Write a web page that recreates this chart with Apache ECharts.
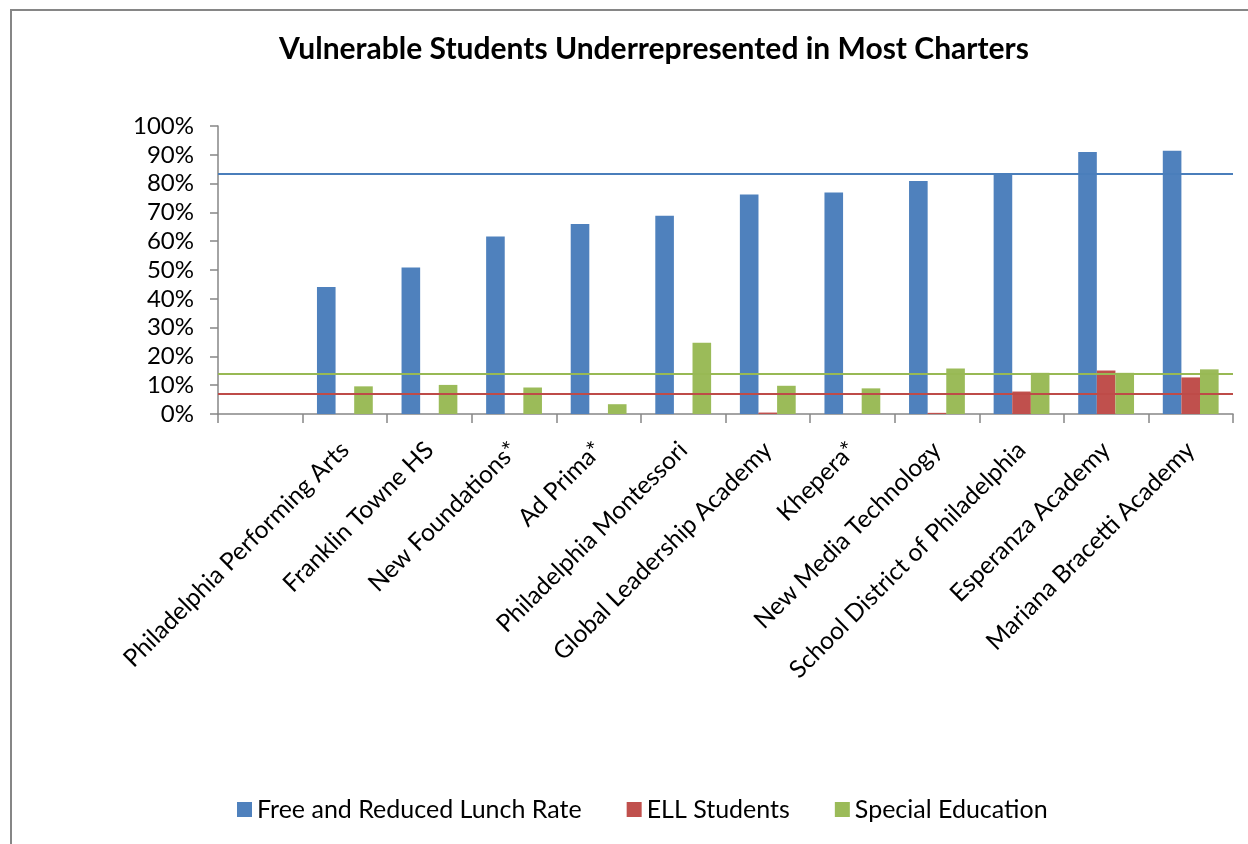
<!DOCTYPE html>
<html>
<head>
<meta charset="utf-8">
<style>
html,body{margin:0;padding:0;background:#fff;}
#chart{width:1248px;height:844px;}
</style>
<script src="https://cdn.jsdelivr.net/npm/echarts@6/dist/echarts.min.js"></script>
</head>
<body>
<div id="chart"></div>
<script>
const titleText = 'Vulnerable Students Underrepresented in Most Charters';
const categories = ['', 'Philadelphia Performing Arts', 'Franklin Towne HS', 'New Foundations*', 'Ad Prima*',
  'Philadelphia Montessori', 'Global Leadership Academy', 'Khepera*', 'New Media Technology',
  'School District of Philadelphia', 'Esperanza Academy', 'Mariana Bracetti Academy'];
const seriesNames = ['Free and Reduced Lunch Rate', 'ELL Students', 'Special Education'];
const lunchRate = [null, 44.1, 50.9, 61.6, 66.0, 68.8, 76.2, 76.9, 80.9, 83.7, 91.0, 91.4];
const ellStudents = [null, 0, 0, 0, 0, 0, 0.5, 0, 0.4, 7.8, 15.1, 12.7];
const specialEd = [null, 9.6, 10.1, 9.2, 3.4, 24.7, 9.8, 8.9, 15.8, 14.3, 14.3, 15.5];
const referenceLines = [83.3, 7.1, 14.0];
const yTicks = {min: 0, max: 100, interval: 10};

const barColors = ['#4F81BD', '#C0504D', '#9BBB59'];
const lineColors = ['#4A7EBB', '#BE4B48', '#98B954'];
const FONT = 'Lato';

const chart = echarts.init(document.getElementById('chart'), null, {renderer: 'canvas'});
const dataSets = [lunchRate, ellStudents, specialEd];

const series = seriesNames.map((name, i) => ({
  name: name,
  type: 'bar',
  data: dataSets[i],
  barGap: '0%',
  barCategoryGap: '34%',
  itemStyle: {color: barColors[i]},
  markLine: {
    silent: true,
    symbol: 'none',
    label: {show: false},
    lineStyle: {color: lineColors[i], width: 2, type: 'solid'},
    data: [{yAxis: referenceLines[i]}]
  }
}));

chart.setOption({
  animation: false,
  backgroundColor: '#fff',
  textStyle: {fontFamily: FONT, color: '#000'},
  graphic: [{
    type: 'rect',
    shape: {x: 11, y: 10, width: 1400, height: 1000},
    style: {fill: 'none', stroke: '#868686', lineWidth: 2},
    silent: true
  }],
  title: {
    text: titleText,
    left: 274,
    top: 29,
    textStyle: {fontFamily: FONT, fontWeight: 'bold', fontSize: 30, color: '#000'}
  },
  legend: {
    data: seriesNames,
    left: 232,
    top: 792,
    icon: 'rect',
    itemWidth: 15,
    itemHeight: 15,
    itemGap: 45,
    textStyle: {fontFamily: FONT, fontSize: 25, color: '#000'}
  },
  grid: {left: 218, right: 15, top: 126, bottom: 430, containLabel: false},
  xAxis: {
    type: 'category',
    data: categories,
    axisLine: {lineStyle: {color: '#868686', width: 1.5}},
    axisTick: {show: true, length: 9, alignWithLabel: false, lineStyle: {color: '#868686', width: 1.5}},
    axisLabel: {rotate: 45, margin: 32, interval: 0, fontFamily: FONT, fontSize: 24.5, color: '#000'},
    splitLine: {show: false}
  },
  yAxis: {
    type: 'value',
    min: yTicks.min,
    max: yTicks.max,
    interval: yTicks.interval,
    axisLine: {show: true, lineStyle: {color: '#868686', width: 1.5}},
    axisTick: {show: true, length: 8, lineStyle: {color: '#868686', width: 1.5}},
    axisLabel: {formatter: '{value}%', margin: 24, fontFamily: FONT, fontSize: 24, color: '#000'},
    splitLine: {show: false}
  },
  series: series
});
</script>
</body>
</html>
